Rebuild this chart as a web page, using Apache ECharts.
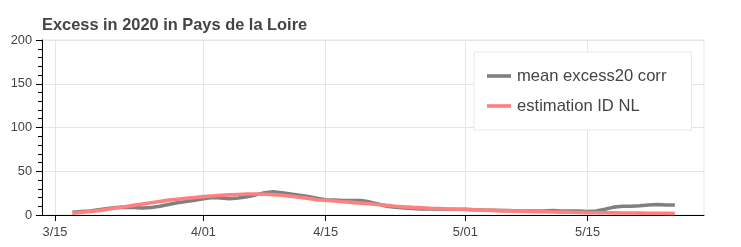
<!DOCTYPE html>
<html>
<head>
<meta charset="utf-8">
<script src="https://cdn.jsdelivr.net/npm/echarts@6/dist/echarts.min.js"></script>
<style>
html,body{margin:0;padding:0;background:#fff;}
#chart{width:741px;height:247px;}
</style>
</head>
<body>
<div id="chart"></div>
<script>
// Day offsets are counted from 15 March 2020 (3/15 = day 0)
var firstDay = 2;   // 3/17
var tickDays = [0, 17, 31, 47, 61];
var tickLabels = ['3/15', '4/01', '4/15', '5/01', '5/15'];
var yTicks = [0, 50, 100, 150, 200];

// mean excess20 corr, daily from 3/17 to 5/25
var meanExcess = [
  3, 4, 4.5, 6, 7.5, 8.5, 9, 8.5, 8, 8.5,
  10, 12, 14, 15.5, 17, 18.5, 20, 19.5, 18.5, 19.5,
  21, 23, 25.5, 26.5, 25.5, 24, 22.5, 21, 19, 17.5,
  17, 16.5, 16.5, 16.5, 15, 12.5, 10, 9, 8, 7.5,
  7, 7, 6.5, 6.5, 6.5, 6.5, 6, 5.5, 5.5, 5,
  5, 4.5, 4.5, 4.5, 4.5, 5, 4.5, 4.5, 4.5, 4,
  4.5, 6.5, 9, 10, 10, 10.5, 11.5, 12, 11.5, 11.5
];
// estimation ID NL, daily from 3/17 to 5/25
var estimation = [
  2, 3, 4, 5, 6.5, 8, 9.5, 11, 12.5, 14,
  15.5, 17, 18, 19, 20, 21, 21.8, 22.5, 23, 23.5,
  24, 24, 23.7, 23.3, 22.5, 21.5, 20.3, 19, 17.5, 16.8,
  16, 15.2, 14.4, 13.6, 12.8, 12, 11, 10, 9.3, 8.7,
  8.2, 7.7, 7.3, 6.9, 6.5, 6.2, 5.9, 5.6, 5.3, 5,
  4.7, 4.4, 4.1, 3.9, 3.7, 3.5, 3.3, 3.1, 2.9, 2.7,
  2.6, 2.5, 2.4, 2.3, 2.2, 2.1, 2, 2, 1.9, 1.8
];

function toPairs(arr) {
  return arr.map(function (v, i) { return [firstDay + i, v]; });
}

var chart = echarts.init(document.getElementById('chart'), null, {renderer: 'canvas'});
var font = '"Liberation Sans", Arial, Helvetica, sans-serif';
chart.setOption({
  animation: false,
  backgroundColor: '#ffffff',
  title: {
    text: 'Excess in 2020 in Pays de la Loire',
    left: 42, top: 17, padding: 0,
    textStyle: {fontFamily: font, fontSize: 16.4, fontWeight: 'bold', color: '#444444'}
  },
  grid: {
    left: 42, right: 37, top: 40, bottom: 32,
    show: true, borderColor: '#e5e5e5', borderWidth: 1, backgroundColor: 'transparent'
  },
  legend: {
    orient: 'vertical',
    left: 474, top: 52,
    padding: [15, 25, 15, 13],
    backgroundColor: '#ffffff',
    borderColor: '#e8e8e8', borderWidth: 1,
    itemWidth: 24, itemHeight: 3.6, itemGap: 12,
    icon: 'rect',
    textStyle: {fontFamily: font, fontSize: 16.6, color: '#444444', lineHeight: 18, padding: [0, 0, 0, 1]},
    data: ['mean excess20 corr', 'estimation ID NL']
  },
  xAxis: {
    type: 'value',
    min: -1.49, max: 74.34,
    axisLine: {show: true, onZero: false, lineStyle: {color: '#000000', width: 1}},
    axisTick: {show: true, length: 6, customValues: tickDays, lineStyle: {color: '#000000', width: 1}},
    axisLabel: {
      customValues: tickDays, margin: 11,
      fontFamily: font, fontSize: 12.8, color: '#444444',
      formatter: function (v) { var k = tickDays.indexOf(Math.round(v)); return k >= 0 ? tickLabels[k] : ''; }
    },
    splitLine: {show: true, lineStyle: {color: '#e5e5e5', width: 1}}
  },
  yAxis: {
    type: 'value',
    min: yTicks[0], max: yTicks[yTicks.length - 1], interval: 50,
    axisLine: {show: true, onZero: false, lineStyle: {color: '#000000', width: 1}},
    axisTick: {show: true, length: 6, lineStyle: {color: '#000000', width: 1}},
    minorTick: {show: true, splitNumber: 5, length: 4, lineStyle: {color: '#000000', width: 1}},
    axisLabel: {margin: 10, fontFamily: font, fontSize: 12.8, color: '#444444'},
    splitLine: {show: true, lineStyle: {color: '#e5e5e5', width: 1}}
  },
  series: [
    {
      name: 'mean excess20 corr', type: 'line', showSymbol: false, symbol: 'none',
      data: toPairs(meanExcess),
      lineStyle: {color: '#808080', width: 3.6},
      itemStyle: {color: '#808080'}
    },
    {
      name: 'estimation ID NL', type: 'line', showSymbol: false, symbol: 'none',
      data: toPairs(estimation),
      lineStyle: {color: '#ff8080', width: 3.6},
      itemStyle: {color: '#ff8080'}
    }
  ]
});
</script>
</body>
</html>
